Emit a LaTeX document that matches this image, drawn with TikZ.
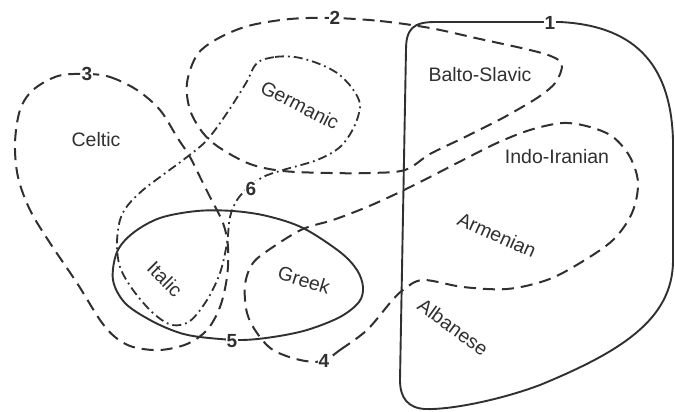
\documentclass[tikz,border=0pt]{standalone}
\usepackage{fontspec}
\setmainfont{Liberation Sans}
\definecolor{ink}{HTML}{303030}
\newcommand{\lblfont}{\fontsize{19.5}{22}\selectfont}
\newcommand{\numfont}{\fontsize{19}{22}\selectfont\bfseries}
\begin{document}
\begin{tikzpicture}[x=1pt,y=-1pt,
  solidline/.style={draw=ink, line width=1.9pt, line join=round},
  dashline/.style={draw=ink, line width=2pt, dash pattern=on 12pt off 7pt},
  dashdotline/.style={draw=ink, line width=1.8pt, dash pattern=on 9pt off 4pt on 1.8pt off 4pt},
  lbl/.style={text=ink, font=\lblfont, inner sep=0pt},
  num/.style={text=ink, font=\numfont, fill=white, inner sep=1.2pt}]

\useasboundingbox[fill=white] (0,0) rectangle (675,412);

% curve 1 (solid, large right region)
\path[solidline] (406,50) .. controls (406,29) and (413,22) .. (435,22) -- (560,22)
  .. controls (640,26) and (671,70) .. (673,140) -- (673,262)
  .. controls (672,320) and (620,352) .. (540,385)
  .. controls (500,400) and (450,410) .. (425,409)
  .. controls (408,408) and (400,398) .. (400,380) -- cycle;

% curve 2 (dashed, Germanic + Balto-Slavic)
\draw[dashline] plot[smooth cycle, tension=0.55] coordinates {
  (333,18) (380,21) (430,28) (480,39) (530,50) (553,57) (562,65) (556,82) (540,96)
  (517,110) (497,121) (463,138) (430,154) (405,170) (370,173) (330,173) (283,171)
  (250,164) (220,148) (203,133) (190,110) (187,83) (197,55) (217,39) (248,26) (290,19)};

% curve 3 (dashed, Celtic)
\draw[dashline] plot[smooth cycle, tension=0.55] coordinates {
  (87,74) (110,77) (137,90) (160,110) (177,137) (190,157) (200,177) (210,197)
  (223,223) (228,247) (227,277) (220,307) (207,330) (187,344) (160,350) (133,347)
  (115,337) (100,320) (77,283) (50,243) (30,210) (18,177) (15,143) (20,110) (33,90) (58,76)};

% curve 4 (dashed, Greek - Armenian - Indo-Iranian)
\draw[dashline] plot[smooth cycle, tension=0.55] coordinates {
  (323,361) (340,350) (367,330) (390,303) (403,290) (423,280) (463,287) (507,289)
  (547,280) (580,263) (613,240) (632,213) (638,183) (630,157) (613,137) (590,127)
  (563,123) (530,130) (497,143) (463,160) (430,177) (400,192) (367,207) (333,220)
  (303,229) (273,247) (253,263) (245,285) (247,313) (257,333) (273,350) (300,360)};

% curve 5 (solid, Italic + Greek)
\draw[solidline] plot[smooth cycle, tension=0.55] coordinates {
  (233,211) (267,216) (303,228) (340,252) (357,270) (363,287) (359,302) (340,317)
  (307,330) (273,337) (240,340) (200,337) (177,332) (150,320) (125,303) (113,280)
  (117,252) (133,233) (160,218) (197,211)};

% curve 6 (dash-dot, Germanic + Italic)
\draw[dashdotline] plot[smooth cycle, tension=0.55] coordinates {
  (257,63) (275,57) (295,57) (317,63) (337,73) (352,88) (360,105) (354,127)
  (340,147) (317,160) (283,170) (263,177) (248,188) (237,200) (230,217) (227,243)
  (220,273) (207,300) (190,321) (172,325) (153,313) (133,290) (120,267) (117,243)
  (120,220) (128,205) (143,190) (160,177) (187,157) (207,140) (227,113) (246,83)};

% labels
\node[lbl] (celtic) at (96,140) {Celtic};
\node[lbl] (balto) at (480,75) {Balto-Slavic};
\node[lbl] (indo) at (557,157) {Indo-Iranian};
\node[lbl, rotate=-27] (germanic) at (300,105) {Germanic};
\node[lbl, rotate=-24] (armenian) at (497,235) {Armenian};
\node[lbl, rotate=-36] (albanese) at (453,327) {Albanese};
\node[lbl, rotate=-45] (italic) at (165,279) {Italic};
\node[lbl, rotate=-17] (greek) at (304,280) {Greek};

% numbers
\node[num] (n1) at (550,23) {1};
\node[num] (n2) at (335,18) {2};
\node[num] (n3) at (87,74) {3};
\node[num] (n4) at (324,361) {4};
\node[num] (n5) at (232,341) {5};
\node[num] (n6) at (251,189) {6};
\end{tikzpicture}
\end{document}
